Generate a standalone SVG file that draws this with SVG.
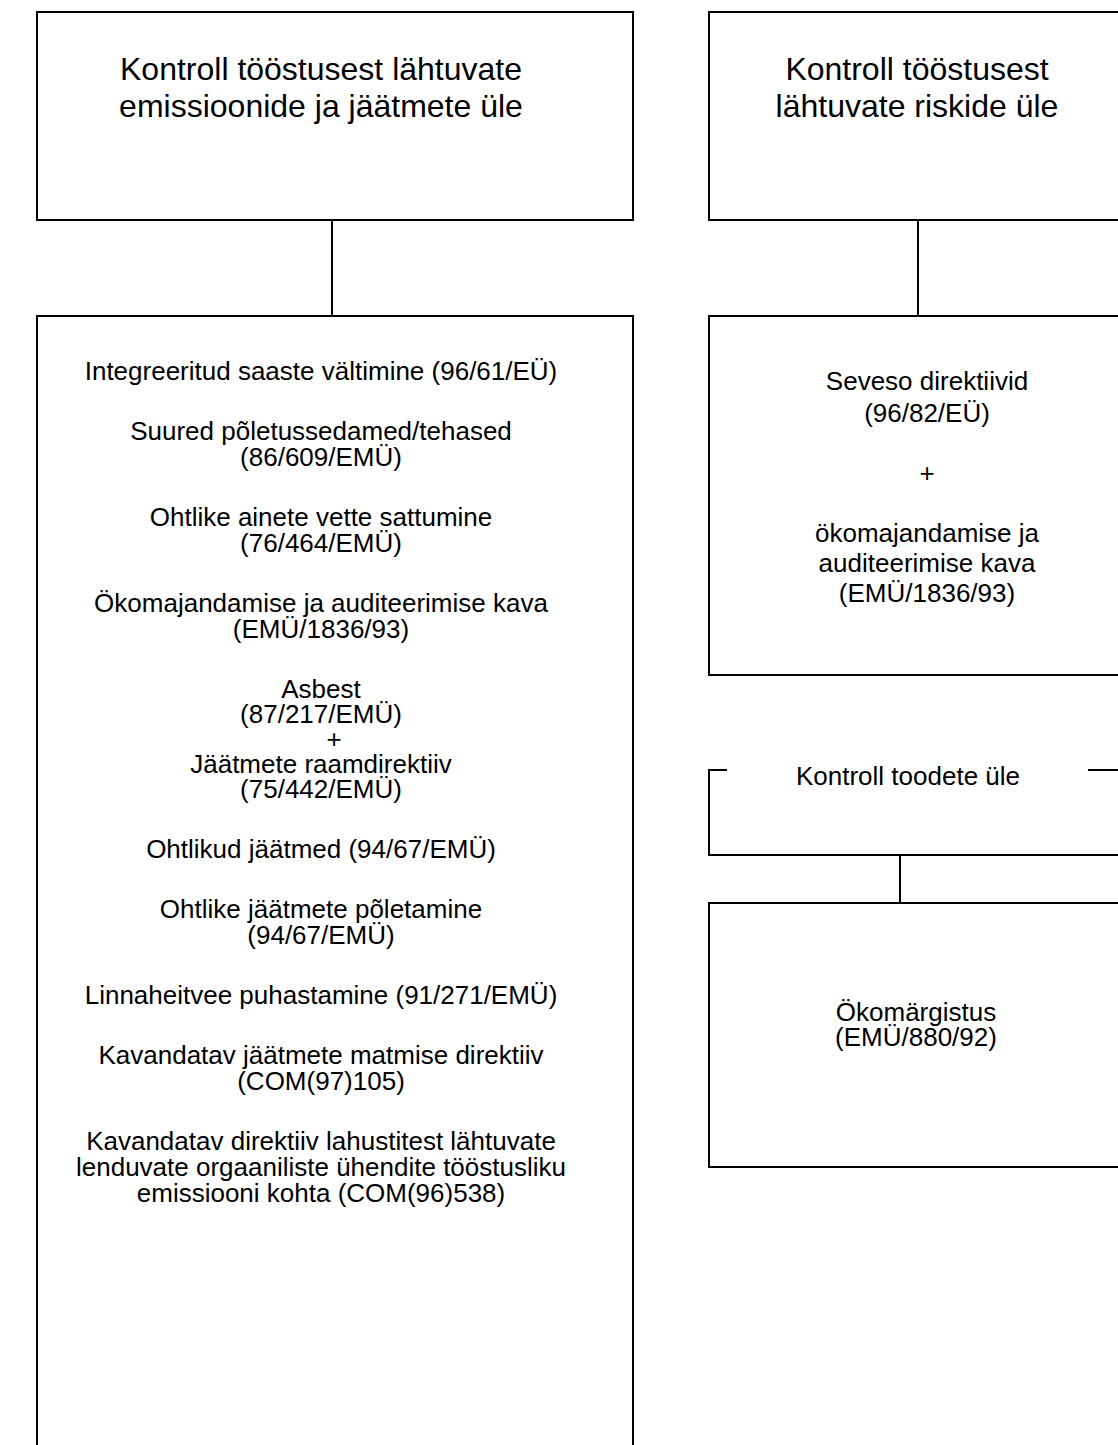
<svg xmlns="http://www.w3.org/2000/svg" width="1118" height="1445" viewBox="0 0 1118 1445">
  <style>
    .box { fill: #ffffff; stroke: #000000; stroke-width: 2; }
    .edge { fill: none; stroke: #000000; stroke-width: 2; }
    .title { font-family: "Liberation Sans", Arial, sans-serif; font-size: 32px; fill: #000000; text-anchor: middle; }
    .body { font-family: "Liberation Sans", Arial, sans-serif; font-size: 26px; fill: #000000; text-anchor: middle; }
  </style>
  <rect x="0" y="0" width="1118" height="1445" fill="#ffffff"/>

  <!-- connectors -->
  <g id="connectors">
    <line class="edge" x1="332" y1="220" x2="332" y2="316"/>
    <line class="edge" x1="918" y1="220" x2="918" y2="316"/>
    <line class="edge" x1="900" y1="855" x2="900" y2="903"/>
  </g>

  <!-- left column: emissions and waste -->
  <g id="node-emissions">
    <rect class="box" x="37" y="12" width="596" height="208"/>
    <text class="title" x="321" y="80">Kontroll tööstusest lähtuvate</text>
    <text class="title" x="321" y="117">emissioonide ja jäätmete üle</text>
  </g>

  <g id="node-emission-directives">
    <rect class="box" x="37" y="316" width="596" height="1140"/>
    <text class="body" x="321" y="380">Integreeritud saaste vältimine (96/61/EÜ)</text>
    <text class="body" x="321" y="440">Suured põletussedamed/tehased</text>
    <text class="body" x="321" y="466">(86/609/EMÜ)</text>
    <text class="body" x="321" y="526">Ohtlike ainete vette sattumine</text>
    <text class="body" x="321" y="552">(76/464/EMÜ)</text>
    <text class="body" x="321" y="612">Ökomajandamise ja auditeerimise kava</text>
    <text class="body" x="321" y="638">(EMÜ/1836/93)</text>
    <text class="body" x="321" y="698">Asbest</text>
    <text class="body" x="321" y="723">(87/217/EMÜ)</text>
    <text class="body" x="334" y="748">+</text>
    <text class="body" x="321" y="773">Jäätmete raamdirektiiv</text>
    <text class="body" x="321" y="798">(75/442/EMÜ)</text>
    <text class="body" x="321" y="858">Ohtlikud jäätmed (94/67/EMÜ)</text>
    <text class="body" x="321" y="918">Ohtlike jäätmete põletamine</text>
    <text class="body" x="321" y="944">(94/67/EMÜ)</text>
    <text class="body" x="321" y="1004">Linnaheitvee puhastamine (91/271/EMÜ)</text>
    <text class="body" x="321" y="1064">Kavandatav jäätmete matmise direktiiv</text>
    <text class="body" x="321" y="1090">(COM(97)105)</text>
    <text class="body" x="321" y="1150">Kavandatav direktiiv lahustitest lähtuvate</text>
    <text class="body" x="321" y="1176">lenduvate orgaaniliste ühendite tööstusliku</text>
    <text class="body" x="321" y="1202">emissiooni kohta (COM(96)538)</text>
  </g>

  <!-- right column: risks -->
  <g id="node-risks">
    <rect class="box" x="709" y="12" width="430" height="208"/>
    <text class="title" x="917" y="80">Kontroll tööstusest</text>
    <text class="title" x="917" y="117">lähtuvate riskide üle</text>
  </g>

  <g id="node-seveso">
    <rect class="box" x="709" y="316" width="430" height="359"/>
    <text class="body" x="927" y="390">Seveso direktiivid</text>
    <text class="body" x="927" y="422">(96/82/EÜ)</text>
    <text class="body" x="927" y="482">+</text>
    <text class="body" x="927" y="542">ökomajandamise ja</text>
    <text class="body" x="927" y="572">auditeerimise kava</text>
    <text class="body" x="927" y="602">(EMÜ/1836/93)</text>
  </g>

  <!-- products: top border interrupted by its heading -->
  <g id="node-products">
    <path class="edge" d="M727 770 H709 V855 H1140"/>
    <line class="edge" x1="1088" y1="770" x2="1140" y2="770"/>
    <text class="body" x="908" y="785">Kontroll toodete üle</text>
  </g>

  <g id="node-ecolabel">
    <rect class="box" x="709" y="903" width="430" height="264"/>
    <text class="body" x="916" y="1021">Ökomärgistus</text>
    <text class="body" x="916" y="1046">(EMÜ/880/92)</text>
  </g>
</svg>
